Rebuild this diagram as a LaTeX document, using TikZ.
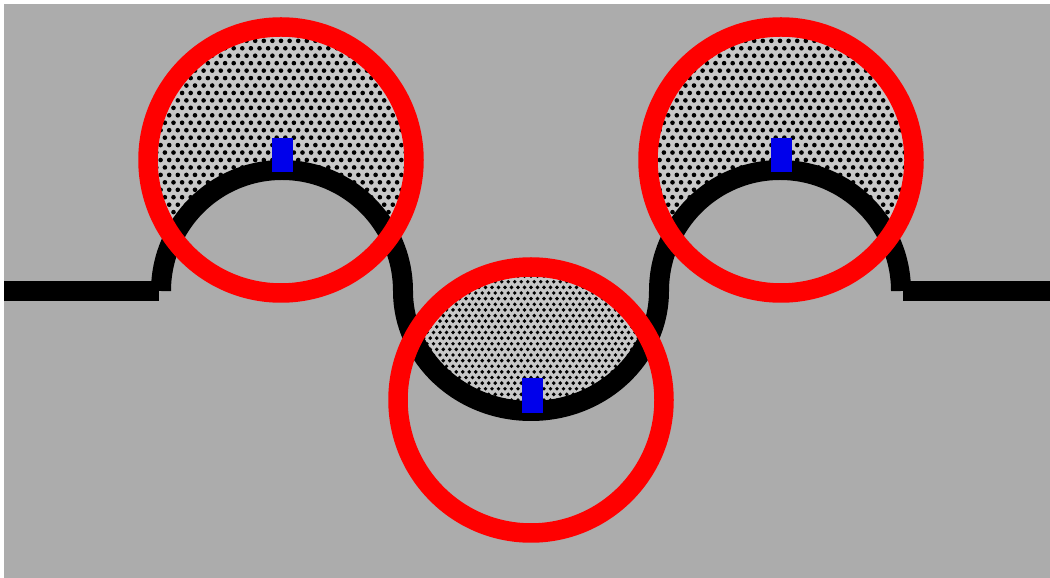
\documentclass[tikz,border=0pt]{standalone}
\definecolor{bggray}{RGB}{172,172,172}
\definecolor{dotbg}{RGB}{200,200,200}
\definecolor{ringred}{RGB}{255,0,0}
\definecolor{markblue}{RGB}{0,0,235}
% #1,#2 centre; #3 horizontal spacing; #4 dot radius; #5 count
\newcommand\mydotfield[5]{%
  \foreach \j in {-#5,...,#5}{%
    \pgfmathsetmacro\off{mod(abs(\j),2)*#3/2}%
    \foreach \i in {-#5,...,#5}{%
      \fill[black] ({#1+\i*#3+\off},{#2+\j*#3*0.866}) circle[radius=#4pt];
    }%
  }%
}
\tikzset{
  curve/.style={line width=20pt, line cap=butt, line join=round, black},
  ring/.style={line width=19.5pt, ringred},
  marker/.style={fill=markblue, draw=none}
}
\begin{document}
\begin{tikzpicture}[x=1pt,y=1pt]
\useasboundingbox (0,0) rectangle (1050,578);
\fill[white] (0,0) rectangle (1050,578);
\fill[bggray] (4,0) rectangle (1050,574);
% dotted areas above the curve inside each ring
\begin{scope}
  \clip (0,287) -- (161,287) arc[start angle=180,end angle=0,radius=121pt]
        arc[start angle=180,end angle=360,x radius=128pt,y radius=120pt]
        arc[start angle=180,end angle=0,radius=121pt]
        -- (1050,287) -- (1050,578) -- (0,578) -- cycle;
  \begin{scope}
    \clip (281,418) circle[radius=134pt];
    \fill[dotbg] (281,418) circle[radius=134pt];
    \mydotfield{281}{418}{8.6}{2.3}{18}
  \end{scope}
  \begin{scope}
    \clip (531,178) circle[radius=134pt];
    \fill[dotbg] (531,178) circle[radius=134pt];
    \mydotfield{531}{178}{6.5}{1.95}{24}
  \end{scope}
  \begin{scope}
    \clip (780,418) circle[radius=134pt];
    \fill[dotbg] (780,418) circle[radius=134pt];
    \mydotfield{780}{418}{8.6}{2.3}{18}
  \end{scope}
\end{scope}
% black curve
\coordinate (lstart) at (4,287);
\coordinate (lend) at (159,287);
\coordinate (rstart) at (903,287);
\coordinate (rend) at (1050,287);
\coordinate (cstart) at (161,287);
\draw[curve] (lstart) -- (lend);
\draw[curve] (rstart) -- (rend);
\draw[curve] (cstart) arc[start angle=180,end angle=0,radius=121pt]
      arc[start angle=180,end angle=360,x radius=128pt,y radius=120pt]
      arc[start angle=180,end angle=0,radius=121pt];
% blue markers
\fill[marker] (272,406) rectangle (293,440);
\fill[marker] (771,406) rectangle (792,440);
\fill[marker] (522,165) rectangle (543,200);
% red rings
\draw[ring] (281,418) circle[radius=133pt];
\draw[ring] (531,178) circle[radius=133pt];
\draw[ring] (781,418) circle[radius=133pt];
\end{tikzpicture}
\end{document}
